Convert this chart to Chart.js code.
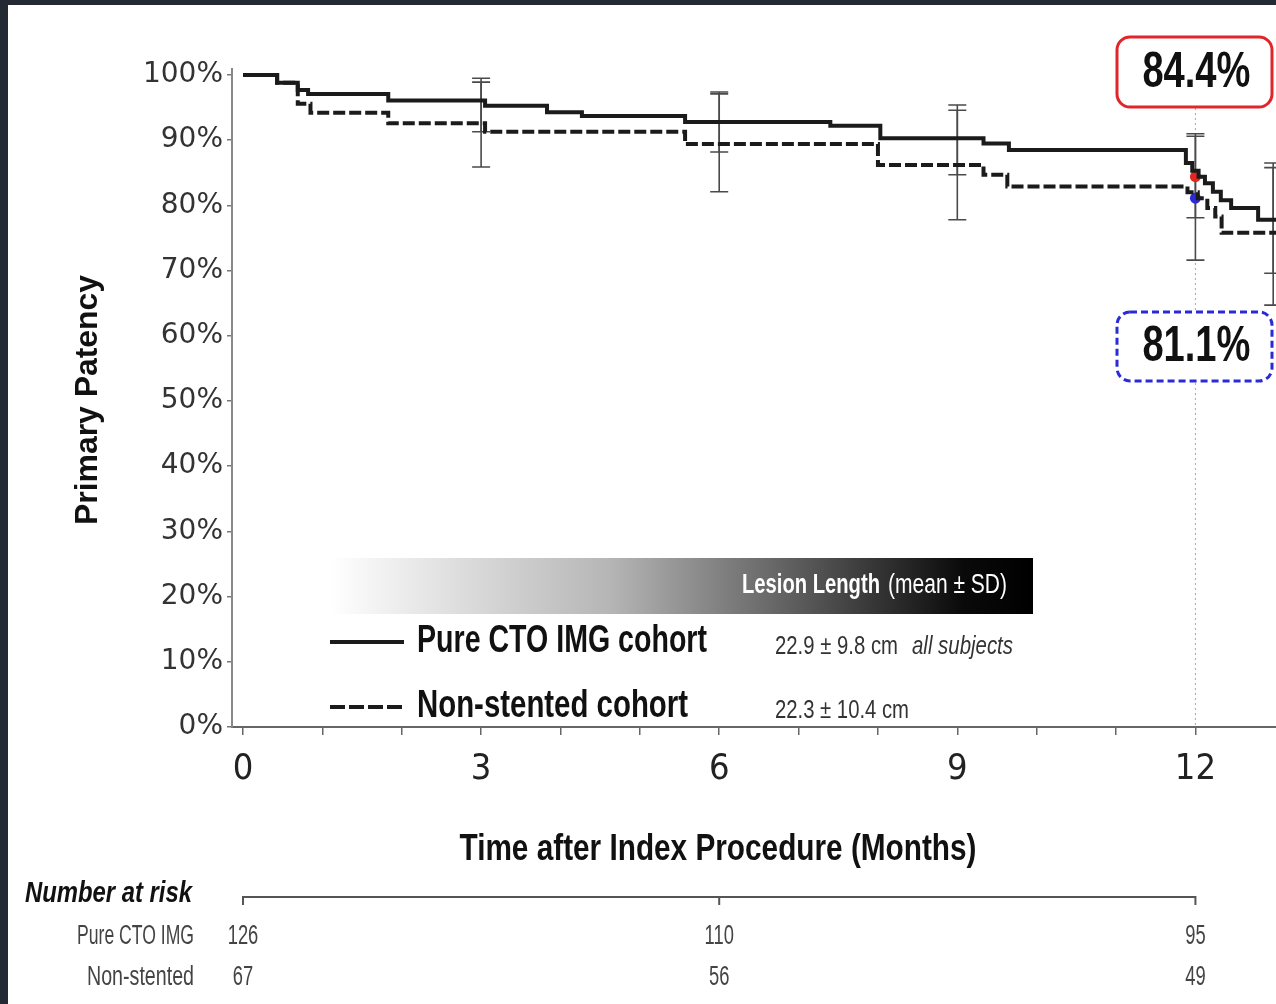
<!DOCTYPE html>
<html><head><meta charset="utf-8">
<script src="https://cdn.jsdelivr.net/npm/chart.js@4"></script>
<style>
html,body{margin:0;padding:0;background:#232a33;overflow:hidden}
canvas{position:absolute;left:0;top:0}
</style>
</head><body>
<canvas id="c" width="1276" height="1004"></canvas>
<script>
// ---- data ----
const pureTimes  = [0, 0.43, 0.69, 0.82, 1.83, 3.05, 3.83, 4.27, 5.57, 7.40, 8.03, 9.33, 9.65, 11.88, 11.96, 12.04, 12.12, 12.22, 12.32, 12.45, 12.79, 13.05];
const pureValues = [100, 98.8, 97.7, 97.1, 96.1, 95.3, 94.3, 93.7, 92.8, 92.2, 90.3, 89.5, 88.5, 86.5, 85.3, 84.4, 83.4, 82.1, 80.8, 79.6, 77.8, 77.8];
const nonTimes   = [0, 0.43, 0.69, 0.85, 1.83, 3.05, 5.57, 8.00, 9.33, 9.63, 11.90, 12.03, 12.15, 12.25, 12.33, 13.05];
const nonValues  = [100, 98.8, 95.6, 94.2, 92.6, 91.3, 89.4, 86.2, 84.7, 82.9, 82.0, 81.1, 79.6, 78.3, 75.8, 75.8];

const ciTimes = [3, 6, 9, 12, 12.98];
const pureLo  = [91.3, 88.2, 84.7, 78.1, 69.6];
const pureHi  = [99.5, 97.4, 95.4, 91.0, 86.5];
const nonLo   = [85.9, 82.1, 77.8, 71.6, 64.7];
const nonHi   = [98.9, 97.1, 94.6, 90.6, 85.8];

const markTime = 12;
const pureAt12 = 84.4;
const nonAt12  = 81.1;
const pureAt12Label = '84.4%';
const nonAt12Label  = '81.1%';

const xTickValues = [0,1,2,3,4,5,6,7,8,9,10,11,12];
const xTickLabels = ['0','','','3','','','6','','','9','','','12'];
const yTickValues = [0,10,20,30,40,50,60,70,80,90,100];

const riskTimes  = [0, 6, 12];
const riskPure   = [126, 110, 95];
const riskNon    = [67, 56, 49];
const riskRowLabels = ['Pure CTO IMG', 'Non-stented'];

const seriesNames = ['Pure CTO IMG cohort', 'Non-stented cohort'];
const lesionText  = ['22.9 \u00b1 9.8 cm', '22.3 \u00b1 10.4 cm'];

const xMin = -0.1387, xMax = 12.946;

// ---- helpers ----
const NARROW = '"Liberation Sans Narrow","DejaVu Sans Condensed","Roboto Condensed",sans-serif';
function fitText(ctx, text, x, y, font, w, align, color){
  ctx.save();
  ctx.font = font; ctx.fillStyle = color; ctx.textBaseline = 'middle'; ctx.textAlign = align;
  const m = ctx.measureText(text).width;
  ctx.translate(x, y); ctx.scale(w / m, 1);
  ctx.fillText(text, 0, 0);
  ctx.restore();
}
function squeezeText(ctx, text, x, y, font, sx, align, color){
  ctx.save();
  ctx.font = font; ctx.fillStyle = color; ctx.textBaseline = 'middle'; ctx.textAlign = align;
  ctx.translate(x, y); ctx.scale(sx, 1);
  ctx.fillText(text, 0, 0);
  ctx.restore();
}
function roundRect(ctx, x, y, w, h, r){
  ctx.beginPath();
  ctx.moveTo(x + r, y); ctx.lineTo(x + w - r, y); ctx.arcTo(x + w, y, x + w, y + r, r);
  ctx.lineTo(x + w, y + h - r); ctx.arcTo(x + w, y + h, x + w - r, y + h, r);
  ctx.lineTo(x + r, y + h); ctx.arcTo(x, y + h, x, y + h - r, r);
  ctx.lineTo(x, y + r); ctx.arcTo(x, y, x + r, y, r); ctx.closePath();
}

const bgPlugin = {
  id: 'bg',
  beforeDraw(chart){
    const c = chart.ctx;
    c.save();
    c.fillStyle = '#232a33'; c.fillRect(0, 0, chart.width, chart.height);
    c.fillStyle = '#ffffff'; c.fillRect(8, 5, chart.width - 8, chart.height - 5);
    c.restore();
  }
};

const underPlugin = {
  id: 'under',
  beforeDatasetsDraw(chart){
    const c = chart.ctx, sx = chart.scales.x, sy = chart.scales.y;
    c.save();
    const x12 = sx.getPixelForValue(markTime);
    c.strokeStyle = '#a8a8a8'; c.lineWidth = 1; c.setLineDash([2, 3]);
    c.beginPath(); c.moveTo(x12, 108); c.lineTo(x12, chart.chartArea.bottom); c.stroke();
    c.setLineDash([]);
    c.strokeStyle = '#888'; c.lineWidth = 2;
    c.beginPath(); c.moveTo(chart.chartArea.left, chart.chartArea.top); c.lineTo(chart.chartArea.left, chart.chartArea.top - 7); c.stroke();
    // extend x axis line to the right edge
    c.strokeStyle = '#666'; c.lineWidth = 2;
    c.beginPath(); c.moveTo(chart.chartArea.right, chart.chartArea.bottom); c.lineTo(chart.width, chart.chartArea.bottom); c.stroke();
    c.strokeStyle = '#4a4a4a'; c.lineWidth = 1.6;
    const cap = 9;
    ciTimes.forEach((t, i) => {
      const x = sx.getPixelForValue(t);
      [[pureLo[i], pureHi[i]], [nonLo[i], nonHi[i]]].forEach(([lo, hi]) => {
        const y1 = sy.getPixelForValue(lo), y2 = sy.getPixelForValue(hi);
        c.beginPath();
        c.moveTo(x, y1); c.lineTo(x, y2);
        c.moveTo(x - cap, y1); c.lineTo(x + cap, y1);
        c.moveTo(x - cap, y2); c.lineTo(x + cap, y2);
        c.stroke();
      });
    });
    c.restore();
  }
};

const overPlugin = {
  id: 'over',
  afterDraw(chart){
    const c = chart.ctx, sx = chart.scales.x;
    const x12 = sx.getPixelForValue(markTime);
    c.save();
    c.save();
    c.translate(88, 400); c.rotate(-Math.PI / 2);
    fitText(c, 'Primary Patency', 0, 0, 'bold 32px "Liberation Sans", Arial, sans-serif', 250, 'center', '#111');
    c.restore();
    fitText(c, 'Time after Index Procedure (Months)', 718, 850, 'bold 37px "Liberation Sans", Arial, sans-serif', 517, 'center', '#111');

    c.lineWidth = 3; c.strokeStyle = '#e0262a'; c.fillStyle = '#fff';
    roundRect(c, 1117, 37, 155, 70, 13); c.fill(); c.stroke();
    fitText(c, pureAt12Label, x12 + 1, 73, 'bold 50px "Liberation Sans", Arial, sans-serif', 108, 'center', '#111');
    c.strokeStyle = '#2a2ad6'; c.setLineDash([7, 4]);
    roundRect(c, 1117, 312, 155, 69, 13); c.fill(); c.stroke();
    c.setLineDash([]);
    fitText(c, nonAt12Label, x12 + 1, 347, 'bold 50px "Liberation Sans", Arial, sans-serif', 108, 'center', '#111');

    const g = c.createLinearGradient(330, 0, 1033, 0);
    g.addColorStop(0, '#ffffff'); g.addColorStop(0.4, '#b5b5b5'); g.addColorStop(0.7, '#505050'); g.addColorStop(0.9, '#0a0a0a'); g.addColorStop(1, '#000');
    c.fillStyle = g; c.fillRect(330, 558, 703, 56);
    fitText(c, 'Lesion Length', 742, 586, 'bold 27px "Liberation Sans", Arial, sans-serif', 138, 'left', '#fff');
    fitText(c, '(mean \u00b1 SD)', 1007, 586, '27px "Liberation Sans", Arial, sans-serif', 119, 'right', '#fff');

    c.strokeStyle = '#1b1b1b'; c.lineWidth = 4;
    c.beginPath(); c.moveTo(330, 642); c.lineTo(404, 642); c.stroke();
    c.setLineDash([15, 4]);
    c.beginPath(); c.moveTo(330, 707); c.lineTo(404, 707); c.stroke();
    c.setLineDash([]);
    fitText(c, seriesNames[0], 417, 641, 'bold 39px "Liberation Sans", Arial, sans-serif', 290, 'left', '#111');
    fitText(c, seriesNames[1], 417, 706, 'bold 39px "Liberation Sans", Arial, sans-serif', 271, 'left', '#111');
    fitText(c, lesionText[0], 775, 647, '25px "Liberation Sans", Arial, sans-serif', 123, 'left', '#333');
    fitText(c, 'all subjects', 912, 647, 'italic 25px "Liberation Sans", Arial, sans-serif', 101, 'left', '#333');
    fitText(c, lesionText[1], 775, 711, '25px "Liberation Sans", Arial, sans-serif', 134, 'left', '#333');

    fitText(c, 'Number at risk', 25, 894, 'italic bold 30px "Liberation Sans", Arial, sans-serif', 167, 'left', '#111');
    const r0 = sx.getPixelForValue(riskTimes[0]), r1 = sx.getPixelForValue(riskTimes[riskTimes.length - 1]);
    c.strokeStyle = '#555'; c.lineWidth = 2;
    c.beginPath(); c.moveTo(r0, 897); c.lineTo(r1, 897);
    riskTimes.forEach(t => { const x = sx.getPixelForValue(t); c.moveTo(x, 896); c.lineTo(x, 905); });
    c.stroke();
    fitText(c, riskRowLabels[0], 194, 937, '27px "Liberation Sans", Arial, sans-serif', 117, 'right', '#444');
    fitText(c, riskRowLabels[1], 194, 978, '27px "Liberation Sans", Arial, sans-serif', 107, 'right', '#444');
    riskTimes.forEach((t, i) => {
      const x = sx.getPixelForValue(t);
      squeezeText(c, String(riskPure[i]), x, 937, '27px "Liberation Sans", Arial, sans-serif', 0.68, 'center', '#444');
      squeezeText(c, String(riskNon[i]), x, 978, '27px "Liberation Sans", Arial, sans-serif', 0.68, 'center', '#444');
    });
    c.restore();
  }
};

const ctx = document.getElementById('c').getContext('2d');
new Chart(ctx, {
  type: 'line',
  data: {
    datasets: [
      { label: seriesNames[0], data: pureTimes.map((t, i) => ({ x: t, y: pureValues[i] })),
        stepped: 'before', borderColor: '#1b1b1b', borderWidth: 4, pointRadius: 0, fill: false, clip: 8 },
      { label: seriesNames[1], data: nonTimes.map((t, i) => ({ x: t, y: nonValues[i] })),
        stepped: 'before', borderColor: '#1b1b1b', borderWidth: 4, borderDash: [12, 4], pointRadius: 0, fill: false, clip: 8 },
      { type: 'scatter', label: 'pure12', data: [{ x: markTime, y: pureAt12 }], pointRadius: 5.5, pointBackgroundColor: '#e3261f', pointBorderWidth: 0 },
      { type: 'scatter', label: 'non12', data: [{ x: markTime, y: nonAt12 }], pointRadius: 5.5, pointBackgroundColor: '#2a2ad6', pointBorderWidth: 0 }
    ]
  },
  options: {
    responsive: false, animation: false, events: [],
    layout: { padding: { top: 75, right: 0, bottom: 0, left: 0 } },
    plugins: { legend: { display: false }, tooltip: { enabled: false } },
    scales: {
      x: {
        type: 'linear', min: xMin, max: xMax,
        afterBuildTicks: s => { s.ticks = xTickValues.map(v => ({ value: v })); },
        afterFit: s => { s.height = 277; },
        grid: { drawOnChartArea: false, drawTicks: true, tickLength: 8, color: '#666', lineWidth: 1.5 },
        border: { color: '#666', width: 2 },
        ticks: { autoSkip: false, maxRotation: 0, padding: 13, color: '#222',
          font: { family: NARROW, size: 36 },
          callback: (v) => { const i = xTickValues.indexOf(v); return i >= 0 ? xTickLabels[i] : ''; } }
      },
      y: {
        min: 0, max: 100,
        afterBuildTicks: s => { s.ticks = yTickValues.map(v => ({ value: v })); },
        afterFit: s => { s.width = 232; },
        grid: { drawOnChartArea: false, drawTicks: true, tickLength: 5, color: '#777', lineWidth: 1.5 },
        border: { color: '#888', width: 2 },
        ticks: { padding: 4, color: '#333', font: { family: '"DejaVu Sans", sans-serif', size: 28 },
          callback: v => v + '%' }
      }
    }
  },
  plugins: [bgPlugin, underPlugin, overPlugin]
});
</script>
</body></html>
